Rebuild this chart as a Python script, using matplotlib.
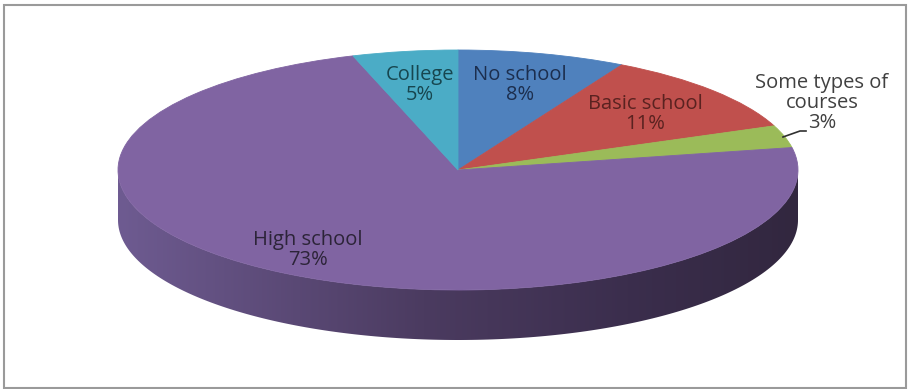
import numpy as np
import matplotlib
matplotlib.use("Agg")
import matplotlib.pyplot as plt
from matplotlib.patches import Polygon, Rectangle
from matplotlib.colors import LinearSegmentedColormap

# data (clockwise from 12 o'clock)
labels = ["No school", "Basic school", "Some types of\ncourses", "High school", "College"]
values = [8, 11, 3, 73, 5]
colors = ["#4F81BD", "#C0504D", "#9BBB59", "#8064A2", "#4BACC6"]
text_colors = ["#1c2e4e", "#5a2220", "#404040", "#2c2438", "#17464f"]

# pixel geometry of the tilted pie
W, H = 908, 389
cx, cy = 458, 170      # centre of the top face
rx, ry = 340, 120      # half axes of the ellipse
depth = 50             # thickness of the side


def to_data(px, py):
    return (px - cx) / rx, (cy - py) / ry


fig = plt.figure(figsize=(W / 100, H / 100), dpi=100)
ax = fig.add_axes([0, 0, 1, 1])
ax.set_axis_off()

# side of the pie (front half, all of it belongs to "High school")
t = np.linspace(np.pi, 2 * np.pi, 200)
d = depth / ry
top = np.column_stack([np.cos(t), np.sin(t)])
bot = np.column_stack([np.cos(t[::-1]), np.sin(t[::-1]) - d])
side = Polygon(np.vstack([top, bot]), closed=True, facecolor="none", edgecolor="none")
ax.add_patch(side)
side_cmap = LinearSegmentedColormap.from_list(
    "side", [(0, "#6E5B91"), (0.45, "#4B3B60"), (0.75, "#3B2E4D"), (1, "#32273F")])
grad = np.linspace(0, 1, 256).reshape(1, -1)
img = ax.imshow(grad, cmap=side_cmap, extent=[-1, 1, -1 - d, 0.05], aspect="auto",
                zorder=1, interpolation="bilinear")
img.set_clip_path(side)

# top face
wedges, _ = ax.pie(values, colors=colors, startangle=90, counterclock=False,
                   radius=1, center=(0, 0), wedgeprops=dict(linewidth=0.6))
for w in wedges:
    w.set_edgecolor(w.get_facecolor())
    w.set_zorder(2)

ax.set_aspect("auto")
ax.set_xlim(to_data(0, 0)[0], to_data(W, 0)[0])
ax.set_ylim(to_data(0, H)[1], to_data(0, 0)[1])

# labels
label_pos = [(520, 85), (645, 114), (822, 103), (308, 250), (420, 85)]
for lab, v, (px, py), tc in zip(labels, values, label_pos, text_colors):
    x, y = to_data(px, py)
    ax.text(x, y, f"{lab}\n{v}%", ha="center", va="center", fontsize=14.5,
            family="Open Sans", color=tc, linespacing=1.02, zorder=5)

# leader line for the small slice
lx, ly = zip(*[to_data(783, 137), to_data(800, 131), to_data(806, 131)])
ax.plot(lx, ly, color="#303030", lw=1.2, zorder=5)

# chart frame
fig.add_artist(Rectangle((4 / W, 1.5 / H), 902 / W, 383 / H, transform=fig.transFigure,
                         fill=False, edgecolor="#9a9a9a", lw=1.5))

fig.savefig("out.png", dpi=100)
